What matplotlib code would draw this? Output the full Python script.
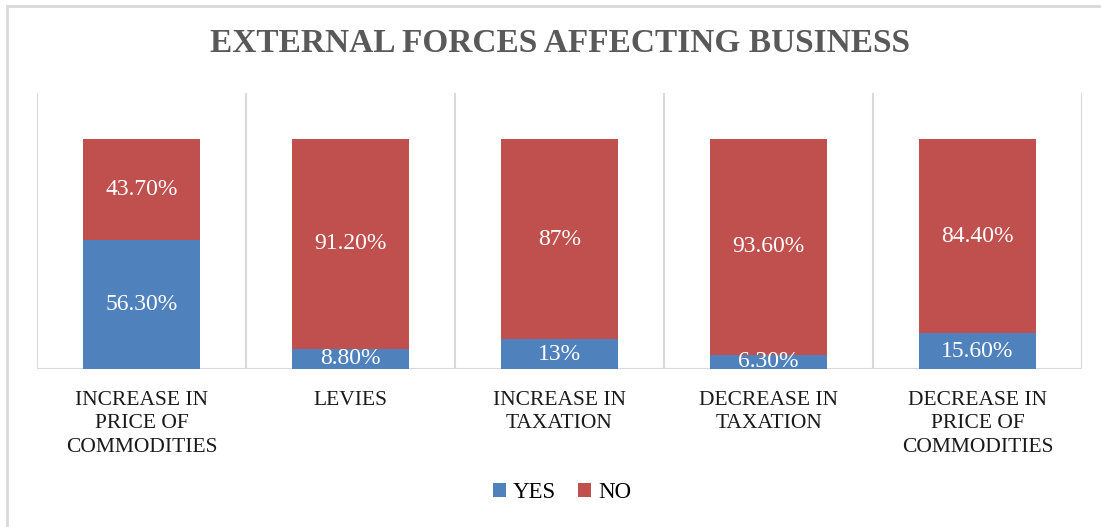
import matplotlib.pyplot as plt
import numpy as np
from matplotlib.patches import Rectangle

categories = ['INCREASE IN\nPRICE OF\nCOMMODITIES', 'LEVIES', 'INCREASE IN\nTAXATION',
              'DECREASE IN\nTAXATION', 'DECREASE IN\nPRICE OF\nCOMMODITIES']
yes = [56.3, 8.8, 13.0, 6.3, 15.6]
no = [43.7, 91.2, 87.0, 93.6, 84.4]
yes_labels = ['56.30%', '8.80%', '13%', '6.30%', '15.60%']
no_labels = ['43.70%', '91.20%', '87%', '93.60%', '84.40%']

blue = '#4F81BD'
red = '#C0504D'
grid = '#D9D9D9'

plt.rcParams['font.family'] = ['Liberation Serif', 'DejaVu Serif']

fig = plt.figure(figsize=(11.01, 5.27), dpi=100)
ax = fig.add_axes([37 / 1101, 1 - 369 / 527, (1082 - 37) / 1101, (369 - 93) / 527])

# outer chart frame (only top and left edges fall inside the image)
fig.patches.append(Rectangle((7 / 1101, -0.1), 1.2, 1 - 6 / 527 + 0.1, transform=fig.transFigure,
                             fill=False, edgecolor=grid, linewidth=2))

x = np.arange(len(categories))
w = 0.56
ax.bar(x, yes, w, color=blue, label='YES')
ax.bar(x, no, w, bottom=yes, color=red, label='NO')

for i in range(len(x)):
    ax.text(x[i], yes[i] / 2, yes_labels[i], ha='center', va='center', color='white',
            fontsize=17, clip_on=True)
    ax.text(x[i], yes[i] + no[i] / 2, no_labels[i], ha='center', va='center', color='white',
            fontsize=17, clip_on=True)

# category separators
ax.vlines(np.arange(len(x) + 1) - 0.5, 0, 120, color=grid, linewidth=1.5, zorder=0)
ax.axhline(0, color=grid, linewidth=1.5, zorder=0)

ax.set_xlim(-0.5, len(x) - 0.5)
ax.set_ylim(0, 120)
ax.set_yticks([])
ax.set_xticks(x)
ax.set_xticklabels(categories, fontsize=15.5, color='#1a1a1a', linespacing=1.3)
ax.tick_params(axis='x', length=0, pad=16)
for s in ax.spines.values():
    s.set_visible(False)

fig.text(0.509, 1 - 44 / 527, 'EXTERNAL FORCES AFFECTING BUSINESS', ha='center', va='center',
         fontsize=24, fontweight='bold', color='#595959')

fig.legend(loc='center', bbox_to_anchor=(562 / 1101, 1 - 493 / 527), ncol=2, frameon=False,
           fontsize=16.5, handlelength=0.55, handleheight=0.55, handletextpad=0.3, columnspacing=1.0)

fig.savefig('out.png', dpi=100)
